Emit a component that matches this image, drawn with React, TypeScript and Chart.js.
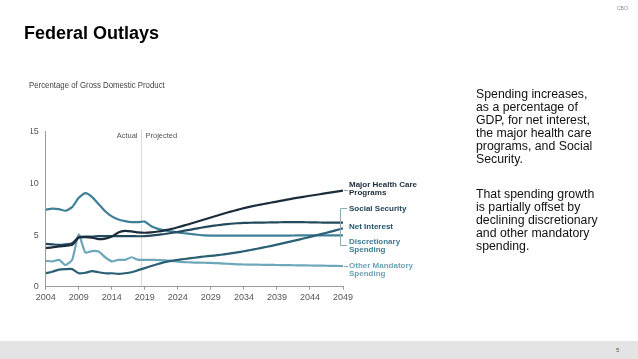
import React, { useEffect, useRef } from "react";
import { Chart, registerables } from "chart.js";

Chart.register(...registerables);

const years = [
  2004, 2005, 2006, 2007, 2008, 2009, 2010, 2011, 2012, 2013,
  2014, 2015, 2016, 2017, 2018, 2019, 2020, 2021, 2022, 2023,
  2024, 2025, 2026, 2027, 2028, 2029, 2030, 2031, 2032, 2033,
  2034, 2035, 2036, 2037, 2038, 2039, 2040, 2041, 2042, 2043,
  2044, 2045, 2046, 2047, 2048, 2049,
];
const tickYears = [2004, 2009, 2014, 2019, 2024, 2029, 2034, 2039, 2044, 2049];
const yTickValues = [0, 5, 10, 15];

const healthCare = [
  3.75, 3.8, 3.9, 3.95, 4.05, 4.75, 4.8, 4.75, 4.6, 4.65,
  4.85, 5.25, 5.4, 5.35, 5.25, 5.22, 5.26, 5.34, 5.45, 5.58,
  5.75, 5.93, 6.12, 6.31, 6.51, 6.7, 6.89, 7.08, 7.27, 7.44,
  7.6, 7.75, 7.88, 8.0, 8.12, 8.24, 8.36, 8.48, 8.6, 8.7,
  8.8, 8.9, 9.0, 9.1, 9.2, 9.3,
];
const socialSecurity = [
  4.15, 4.1, 4.05, 4.1, 4.2, 4.8, 4.85, 4.85, 4.9, 4.9,
  4.9, 4.9, 4.9, 4.9, 4.88, 4.9, 4.95, 5.02, 5.1, 5.2,
  5.3, 5.42, 5.53, 5.65, 5.76, 5.86, 5.95, 6.03, 6.09, 6.14,
  6.17, 6.19, 6.2, 6.21, 6.22, 6.23, 6.24, 6.25, 6.25, 6.24,
  6.23, 6.22, 6.21, 6.2, 6.2, 6.2,
];
const netInterest = [
  1.3, 1.45, 1.65, 1.7, 1.7, 1.3, 1.35, 1.5, 1.4, 1.3,
  1.3, 1.25, 1.3, 1.4, 1.6, 1.8, 2.0, 2.2, 2.38, 2.5,
  2.6, 2.68, 2.76, 2.84, 2.92, 2.98, 3.05, 3.13, 3.22, 3.32,
  3.43, 3.55, 3.67, 3.8, 3.93, 4.07, 4.21, 4.36, 4.51, 4.66,
  4.82, 4.98, 5.14, 5.3, 5.47, 5.65,
];
const discretionary = [
  7.45, 7.55, 7.5, 7.35, 7.7, 8.6, 9.05, 8.7, 8.0, 7.3,
  6.8, 6.5, 6.35, 6.25, 6.25, 6.3, 5.85, 5.6, 5.45, 5.35,
  5.25, 5.17, 5.1, 5.03, 4.97, 4.95, 4.95, 4.95, 4.95, 4.95,
  4.95, 4.95, 4.95, 4.95, 4.95, 4.95, 4.95, 4.95, 4.96, 4.96,
  4.96, 4.96, 4.97, 4.97, 4.97, 4.97,
];
const otherMandatory = [
  2.5, 2.45, 2.6, 2.1, 2.6, 5.05, 3.3, 3.45, 3.4, 2.85,
  2.45, 2.6, 2.6, 2.85, 2.6, 2.6, 2.6, 2.58, 2.55, 2.5,
  2.42, 2.38, 2.35, 2.33, 2.32, 2.3, 2.28, 2.24, 2.2, 2.17,
  2.15, 2.14, 2.13, 2.12, 2.11, 2.1, 2.09, 2.08, 2.07, 2.06,
  2.05, 2.04, 2.03, 2.02, 2.01, 2.0,
];

const seriesNames = [
  "Major Health Care Programs",
  "Social Security",
  "Net Interest",
  "Discretionary Spending",
  "Other Mandatory Spending",
];
const seriesColors = ["#1b2d3c", "#234a5e", "#2a5f76", "#3f7f98", "#6ea6ba"];
const seriesValues = [healthCare, socialSecurity, netInterest, discretionary, otherMandatory];

const dividerYear = 2018.5;
const actualLabel = "Actual";
const projectedLabel = "Projected";

const dividerPlugin = {
  id: "divider",
  beforeDatasetsDraw(chart: any) {
    const { ctx, chartArea, scales } = chart;
    const x = Math.round(scales.x.getPixelForValue(dividerYear)) + 0.5;
    ctx.save();
    ctx.strokeStyle = "#b5b5b5";
    ctx.lineWidth = 1;
    ctx.setLineDash([1, 1]);
    ctx.beginPath();
    ctx.moveTo(x, chartArea.top - 2);
    ctx.lineTo(x, chartArea.bottom);
    ctx.stroke();
    ctx.setLineDash([]);
    ctx.fillStyle = "#555";
    ctx.font = "7.5px 'Liberation Sans', Arial, sans-serif";
    ctx.textBaseline = "alphabetic";
    ctx.textAlign = "right";
    ctx.fillText(actualLabel, x - 4, chartArea.top + 6);
    ctx.textAlign = "left";
    ctx.fillText(projectedLabel, x + 4, chartArea.top + 6);
    ctx.restore();
  },
  afterDraw(chart: any) {
    const { ctx, chartArea } = chart;
    const r = chartArea.right;
    ctx.save();
    ctx.strokeStyle = "#8fa9b4";
    ctx.lineWidth = 1;
    ctx.beginPath();
    ctx.moveTo(r + 1, 190.5);
    ctx.lineTo(r + 5, 190.5);
    ctx.moveTo(r + 4, 208.5);
    ctx.lineTo(r - 2.5, 208.5);
    ctx.moveTo(r - 2.5, 208.5);
    ctx.lineTo(r - 2.5, 245.5);
    ctx.lineTo(r + 4, 245.5);
    ctx.moveTo(r + 1, 266.5);
    ctx.lineTo(r + 5, 266.5);
    ctx.stroke();
    ctx.restore();
  },
};

function baselineTop(baseline: number, size: number) {
  return baseline - 0.8465 * size;
}

export default function App() {
  const canvasRef = useRef<HTMLCanvasElement | null>(null);

  useEffect(() => {
    const canvas = canvasRef.current;
    if (!canvas) return;
    const chart = new Chart(canvas, {
      type: "line",
      data: {
        datasets: seriesNames.map((name, i) => ({
          label: name,
          data: years.map((yr, j) => ({ x: yr, y: seriesValues[i][j] })),
          borderColor: seriesColors[i],
          backgroundColor: seriesColors[i],
          borderWidth: 2.2,
          pointRadius: 0,
          tension: 0.2,
          fill: false,
        })),
      },
      options: {
        responsive: false,
        animation: false,
        devicePixelRatio: 1,
        layout: { padding: { left: 30.7, right: 295, top: 131.7, bottom: 52.3 } },
        plugins: {
          legend: { display: false },
          tooltip: { enabled: false },
          title: { display: false },
        },
        scales: {
          x: {
            type: "linear",
            min: 2004,
            max: 2049,
            afterFit(scale: any) {
              scale.height = 20;
            },
            afterBuildTicks(scale: any) {
              scale.ticks = tickYears.map((v) => ({ value: v }));
            },
            ticks: {
              color: "#555",
              font: { family: "'Liberation Sans', Arial, sans-serif", size: 9 },
              padding: 2,
              maxRotation: 0,
              autoSkip: false,
              callback: (v: any) => String(v),
            },
            grid: {
              display: true,
              drawOnChartArea: false,
              drawTicks: true,
              tickLength: 3,
              color: "#9a9a9a",
            },
            border: { display: true, color: "#9a9a9a", width: 1 },
          },
          y: {
            type: "linear",
            min: 0,
            max: 15,
            afterFit(scale: any) {
              scale.width = 15;
            },
            afterBuildTicks(scale: any) {
              scale.ticks = yTickValues.map((v) => ({ value: v }));
            },
            ticks: {
              color: "#555",
              font: { family: "'Liberation Sans', Arial, sans-serif", size: 9 },
              padding: 7,
              callback: (v: any) => String(v),
            },
            grid: { display: false, drawTicks: false },
            border: { display: true, color: "#9a9a9a", width: 1 },
          },
        },
      },
      plugins: [dividerPlugin],
    });
    return () => chart.destroy();
  }, []);

  const labelFont = "'Liberation Sans', Arial, sans-serif";
  const lbl = (baseline: number, color: string, lines: string[]) => (
    <div
      style={{
        position: "absolute",
        left: 349,
        top: baselineTop(baseline, 8),
        fontFamily: labelFont,
        fontWeight: 700,
        fontSize: 8,
        lineHeight: "8px",
        color,
        whiteSpace: "nowrap",
      }}
    >
      {lines.map((l, i) => (
        <div key={i}>{l}</div>
      ))}
    </div>
  );

  return (
    <div
      style={{
        position: "absolute",
        left: 0,
        top: 0,
        width: 638,
        height: 359,
        background: "#fff",
        overflow: "hidden",
        fontFamily: labelFont,
      }}
    >
      <canvas
        ref={canvasRef}
        width={638}
        height={359}
        style={{ position: "absolute", left: 0, top: 0, width: 638, height: 359 }}
      />
      <div
        style={{
          position: "absolute",
          left: 24,
          top: baselineTop(39, 18),
          fontSize: 18,
          lineHeight: "18px",
          fontWeight: 700,
          color: "#000",
          whiteSpace: "nowrap",
        }}
      >
        Federal Outlays
      </div>
      <div
        style={{
          position: "absolute",
          left: 617,
          top: 6,
          fontSize: 5,
          lineHeight: "5px",
          color: "#888",
        }}
      >
        CBO
      </div>
      <div
        style={{
          position: "absolute",
          left: 29,
          top: baselineTop(88.5, 9),
          fontSize: 9,
          lineHeight: "9px",
          color: "#444",
          whiteSpace: "nowrap",
          transform: "scaleX(0.87)",
          transformOrigin: "0 0",
        }}
      >
        Percentage of Gross Domestic Product
      </div>
      <div
        style={{
          position: "absolute",
          left: 476,
          top: 87.5,
          fontSize: 12.3,
          lineHeight: "13px",
          color: "#111",
          whiteSpace: "nowrap",
        }}
      >
        <div>
          Spending increases,
          <br />
          as a percentage of
          <br />
          GDP, for net interest,
          <br />
          the major health care
          <br />
          programs, and Social
          <br />
          Security.
        </div>
        <div style={{ marginTop: 22 }}>
          That spending growth
          <br />
          is partially offset by
          <br />
          declining discretionary
          <br />
          and other mandatory
          <br />
          spending.
        </div>
      </div>
      {lbl(187.3, "#1b2b3a", ["Major Health Care", "Programs"])}
      {lbl(211.7, "#22475a", ["Social Security"])}
      {lbl(229.3, "#23536a", ["Net Interest"])}
      {lbl(245, "#3d7d96", ["Discretionary", "Spending"])}
      {lbl(268.3, "#6ba3b9", ["Other Mandatory", "Spending"])}
      <div
        style={{
          position: "absolute",
          left: 0,
          top: 341,
          width: 638,
          height: 18,
          background: "#e4e4e4",
        }}
      />
      <div
        style={{
          position: "absolute",
          left: 616,
          top: 347,
          fontSize: 6,
          lineHeight: "6px",
          color: "#555",
        }}
      >
        5
      </div>
    </div>
  );
}
